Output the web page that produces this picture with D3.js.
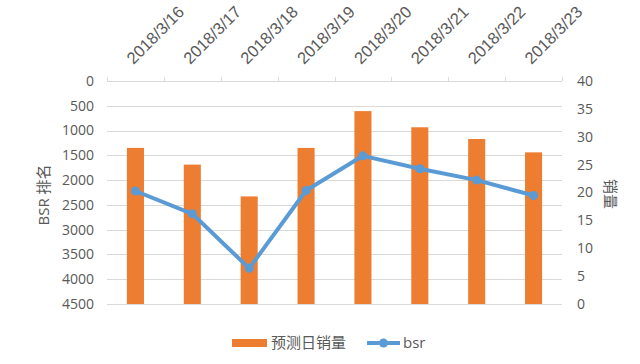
<!DOCTYPE html>
<html>
<head>
<meta charset="utf-8">
<script src="https://cdn.jsdelivr.net/npm/d3@7"></script>
<style>
  body { margin: 0; background: #fff; }
  svg text { font-family: "Open Sans", "Noto Sans CJK SC", sans-serif; fill: #595959; }
</style>
</head>
<body>
<div id="chart"></div>
<script>
var dates = ["2018/3/16", "2018/3/17", "2018/3/18", "2018/3/19", "2018/3/20", "2018/3/21", "2018/3/22", "2018/3/23"];
var sales = [28, 25, 19.3, 28, 34.6, 31.7, 29.6, 27.2];
var bsr = [2220, 2680, 3780, 2210, 1510, 1770, 2000, 2310];
var bsrTicks = d3.range(0, 4501, 500);
var salesTicks = d3.range(0, 41, 5);

var width = 640, height = 364;
var plotLeft = 107, plotRight = 562, plotTop = 81, plotBottom = 304;

var svg = d3.select("#chart").append("svg")
    .attr("width", width)
    .attr("height", height);

var x = d3.scaleBand().domain(dates).range([plotLeft, plotRight]);
var yBsr = d3.scaleLinear().domain([0, 4500]).range([plotTop, plotBottom]);
var ySales = d3.scaleLinear().domain([0, 40]).range([plotBottom, plotTop]);

// gridlines
svg.append("g").selectAll("line")
    .data(bsrTicks)
    .enter().append("line")
    .attr("x1", plotLeft).attr("x2", plotRight)
    .attr("y1", d => Math.round(yBsr(d)) + 0.5)
    .attr("y2", d => Math.round(yBsr(d)) + 0.5)
    .attr("stroke", "#d9d9d9")
    .attr("stroke-width", 1);

// top category axis tick marks
svg.append("g").selectAll("line")
    .data(d3.range(dates.length + 1))
    .enter().append("line")
    .attr("x1", i => Math.round(plotLeft + i * x.bandwidth()) + 0.5)
    .attr("x2", i => Math.round(plotLeft + i * x.bandwidth()) + 0.5)
    .attr("y1", plotTop - 4).attr("y2", plotTop)
    .attr("stroke", "#d9d9d9");

// bars
var barW = x.bandwidth() * 0.3;
svg.append("g").selectAll("rect")
    .data(sales)
    .enter().append("rect")
    .attr("x", (d, i) => x(dates[i]) + x.bandwidth() / 2 - barW / 2)
    .attr("y", d => ySales(d))
    .attr("width", barW)
    .attr("height", d => ySales(0) - ySales(d))
    .attr("fill", "#ED7D31");

// bsr line
var line = d3.line()
    .x((d, i) => x(dates[i]) + x.bandwidth() / 2)
    .y(d => yBsr(d));

svg.append("path")
    .datum(bsr)
    .attr("d", line)
    .attr("fill", "none")
    .attr("stroke", "#5B9BD5")
    .attr("stroke-width", 4)
    .attr("stroke-linejoin", "round");

svg.append("g").selectAll("circle")
    .data(bsr)
    .enter().append("circle")
    .attr("cx", (d, i) => x(dates[i]) + x.bandwidth() / 2)
    .attr("cy", d => yBsr(d))
    .attr("r", 4.5)
    .attr("fill", "#5B9BD5");

// left axis labels
svg.append("g").selectAll("text")
    .data(bsrTicks)
    .enter().append("text")
    .attr("x", 94)
    .attr("y", d => yBsr(d))
    .attr("dy", "0.35em")
    .attr("text-anchor", "end")
    .style("font-size", "14px")
    .text(d => d);

// right axis labels
svg.append("g").selectAll("text")
    .data(salesTicks)
    .enter().append("text")
    .attr("x", 577)
    .attr("y", d => ySales(d))
    .attr("dy", "0.35em")
    .attr("text-anchor", "start")
    .style("font-size", "14px")
    .text(d => d);

// category labels, rotated
svg.append("g").selectAll("text")
    .data(dates)
    .enter().append("text")
    .attr("transform", d => "translate(" + (x(d) + x.bandwidth() / 2 - 2) + "," + (plotTop - 16) + ") rotate(-45)")
    .attr("text-anchor", "start")
    .style("font-family", "'Liberation Sans', Arial, sans-serif")
    .style("font-size", "16.5px")
    .text(d => d);

// axis titles
svg.append("text")
    .attr("transform", "translate(49,195) rotate(-90)")
    .attr("text-anchor", "middle")
    .style("font-size", "15px")
    .text("BSR 排名");

svg.append("text")
    .attr("transform", "translate(605,194) rotate(90)")
    .attr("text-anchor", "middle")
    .style("font-size", "15px")
    .text("销量");

// legend
var legend = svg.append("g");
legend.append("rect")
    .attr("x", 232).attr("y", 339)
    .attr("width", 35).attr("height", 8)
    .attr("fill", "#ED7D31");
legend.append("text")
    .attr("x", 271).attr("y", 343)
    .attr("dy", "0.35em")
    .style("font-size", "15px")
    .text("预测日销量");
legend.append("line")
    .attr("x1", 367).attr("x2", 400)
    .attr("y1", 343).attr("y2", 343)
    .attr("stroke", "#5B9BD5")
    .attr("stroke-width", 4);
legend.append("circle")
    .attr("cx", 383.5).attr("cy", 343)
    .attr("r", 4.5)
    .attr("fill", "#5B9BD5");
legend.append("text")
    .attr("x", 403).attr("y", 343)
    .attr("dy", "0.35em")
    .style("font-size", "15px")
    .text("bsr");
</script>
</body>
</html>
